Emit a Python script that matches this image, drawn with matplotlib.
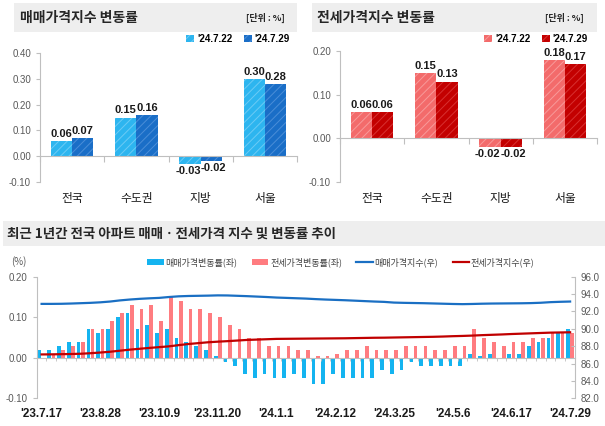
import matplotlib
matplotlib.use('Agg')
import matplotlib.pyplot as plt
import numpy as np
from matplotlib.patches import Rectangle

plt.rcParams['font.family'] = ['Noto Sans CJK KR', 'DejaVu Sans']
plt.rcParams['hatch.linewidth'] = 0.7
plt.rcParams['axes.unicode_minus'] = False

# ---------------- data ----------------
regions = ['전국', '수도권', '지방', '서울']
top_dates = ["'24.7.22", "'24.7.29"]
sale_0722 = [0.06, 0.15, -0.03, 0.30]
sale_0729 = [0.07, 0.16, -0.02, 0.28]
rent_0722 = [0.06, 0.15, -0.02, 0.18]
rent_0729 = [0.06, 0.13, -0.02, 0.17]

week_labels = ["'23.7.17", "'23.8.28", "'23.10.9", "'23.11.20", "'24.1.1",
               "'24.2.12", "'24.3.25", "'24.5.6", "'24.6.17", "'24.7.29"]

sale_rate = [0.02, 0.02, 0.03, 0.04, 0.04, 0.07, 0.06, 0.07, 0.10, 0.11,
             0.07, 0.08, 0.06, 0.07, 0.05, 0.04, 0.03, 0.02, 0.005,
             -0.01, -0.02, -0.04, -0.05, -0.04, -0.05, -0.05, -0.04, -0.05,
             -0.065, -0.065, -0.04, -0.05, -0.05, -0.05, -0.05, -0.03, -0.04,
             -0.03, -0.01, -0.02, -0.02, -0.02, -0.02, -0.02, 0.01, 0.005,
             0.01, -0.002, 0.01, 0.01, 0.03, 0.04, 0.05, 0.06, 0.07]
rent_rate = [-0.003, 0.01, 0.02, 0.03, 0.04, 0.07, 0.07, 0.09, 0.11, 0.13,
             0.12, 0.13, 0.09, 0.15, 0.14, 0.12, 0.12, 0.11, 0.10,
             0.08, 0.07, 0.05, 0.05, 0.03, 0.03, 0.03, 0.02, 0.02,
             0.004, 0.005, 0.01, 0.02, 0.02, 0.03, 0.02, 0.02, 0.02,
             0.03, 0.03, 0.03, 0.02, 0.02, 0.03, 0.03, 0.07, 0.05,
             0.04, 0.03, 0.04, 0.04, 0.05, 0.05, 0.06, 0.06, 0.06]
sale_index = [92.87, 92.87, 92.88, 92.91, 92.95, 92.99, 93.05, 93.14, 93.27, 93.37,
              93.45, 93.51, 93.56, 93.66, 93.74, 93.78, 93.80, 93.82, 93.85,
              93.84, 93.80, 93.76, 93.71, 93.66, 93.60, 93.56, 93.52, 93.48,
              93.42, 93.37, 93.33, 93.29, 93.24, 93.19, 93.14, 93.10, 93.02,
              92.99, 92.97, 92.95, 92.92, 92.89, 92.86, 92.84, 92.86, 92.89,
              92.91, 92.92, 92.93, 92.94, 92.96, 93.00, 93.07, 93.11, 93.14]
rent_index = [87.05, 87.06, 87.08, 87.10, 87.13, 87.19, 87.27, 87.36, 87.48, 87.60,
              87.70, 87.80, 87.89, 87.98, 88.12, 88.25, 88.35, 88.45, 88.52,
              88.58, 88.65, 88.72, 88.76, 88.80, 88.84, 88.85, 88.86, 88.87,
              88.88, 88.89, 88.90, 88.91, 88.93, 88.95, 88.97, 88.98, 89.00,
              89.02, 89.04, 89.06, 89.08, 89.11, 89.15, 89.18, 89.22, 89.27,
              89.31, 89.35, 89.40, 89.44, 89.48, 89.52, 89.56, 89.58, 89.60]

# ---------------- figure ----------------
W, H = 605, 426
fig = plt.figure(figsize=(W / 100, H / 100), dpi=100)
GRAY = '#BFBFBF'
TICKC = '#595959'
ARIAL = ['Liberation Sans', 'DejaVu Sans']


def axes_px(l, t, r, b):
    return fig.add_axes([l / W, 1 - b / H, (r - l) / W, (b - t) / H])


def band(l, t, r, b):
    fig.patches.append(Rectangle((l / W, 1 - b / H), (r - l) / W, (b - t) / H,
                                 transform=fig.transFigure, facecolor='#EEEEEE',
                                 edgecolor='none', zorder=0))


def ftext(px, py, s, **kw):
    fig.text(px / W, 1 - py / H, s, **kw)


# title bands
band(14, 3, 297, 32)
band(312, 3, 597, 32)
band(3, 221, 605, 246)
ftext(20, 18, '매매가격지수 변동률', fontsize=10, fontweight='bold', color='#262626', va='center')
ftext(285, 18, '[단위 : %]', fontsize=6.5, fontweight='bold', color='#262626', va='center', ha='right')
ftext(317, 18, '전세가격지수 변동률', fontsize=10, fontweight='bold', color='#262626', va='center')
ftext(584, 18, '[단위 : %]', fontsize=6.5, fontweight='bold', color='#262626', va='center', ha='right')
ftext(7, 234, '최근 1년간 전국 아파트 매매ㆍ전세가격 지수 및 변동률 추이', fontsize=9.7,
      fontweight='bold', color='#262626', va='center')


def top_chart(ax, v1, v2, c1, c2, h1, h2, ylim, yticks, pad, leg_x):
    x = np.arange(len(regions))
    w = 0.33
    b1 = ax.bar(x - w / 2, v1, w, color=c1, edgecolor=h1, hatch='////', linewidth=0, label=top_dates[0])
    b2 = ax.bar(x + w / 2, v2, w, color=c2, edgecolor=h2, hatch='////', linewidth=0, label=top_dates[1])
    for k, (bars, vals) in enumerate(((b1, v1), (b2, v2))):
        for rect, v in zip(bars, vals):
            if v >= 0:
                xa, ha, va, dy = rect.get_x() + rect.get_width() / 2, 'center', 'bottom', 1.5
            else:
                va, dy = 'top', -1.5
                if k == 0:
                    xa, ha = rect.get_x() + rect.get_width(), 'right'
                else:
                    xa, ha = rect.get_x(), 'left'
            ax.annotate(f'{v:.2f}', (xa, v), xytext=(0, dy), textcoords='offset points',
                        ha=ha, va=va, fontsize=8, fontweight='bold', family=ARIAL, color='#1a1a1a')
    ax.set_xlim(-0.5, len(regions) - 0.5)
    ax.set_ylim(*ylim)
    ax.set_yticks(yticks)
    ax.yaxis.set_major_formatter('{x:.2f}')
    for s in ('top', 'right'):
        ax.spines[s].set_visible(False)
    ax.spines['left'].set_color(GRAY)
    ax.spines['bottom'].set_color(GRAY)
    ax.spines['bottom'].set_position(('data', 0))
    ax.tick_params(axis='y', colors=GRAY, labelcolor=TICKC, labelsize=7, length=3, width=0.8)
    for lab in ax.get_yticklabels():
        lab.set_family(ARIAL)
    ax.set_xticks(x, regions)
    ax.set_xticks(np.arange(len(regions) + 1) - 0.5, minor=True)
    ax.tick_params(axis='x', which='major', length=0, pad=pad, labelsize=8.5, labelcolor='#1a1a1a')
    ax.tick_params(axis='x', which='minor', length=4, color=GRAY, width=0.8)
    fig.legend(handles=[b1, b2], loc='center right', bbox_to_anchor=(leg_x / W, 1 - 39 / H),
               ncol=2, frameon=False, handlelength=0.8, handleheight=0.8,
               handletextpad=0.3, columnspacing=1.2, borderaxespad=0, borderpad=0,
               prop={'family': ARIAL, 'weight': 'bold', 'size': 7})


ax1 = axes_px(40, 53.3, 297, 181.7)
top_chart(ax1, sale_0722, sale_0729, '#2DB5EF', '#1A6EC7', '#6CCBF5', '#4A8ED8',
          (-0.1, 0.4), [-0.1, 0.0, 0.1, 0.2, 0.3, 0.4], 26, 290)
ax2 = axes_px(340, 51, 597, 182)
top_chart(ax2, rent_0722, rent_0729, '#F36B6B', '#C30000', '#F89A9A', '#D83030',
          (-0.1, 0.2), [-0.1, 0.0, 0.1, 0.2], 39, 588)

# ---------------- bottom chart ----------------
axb = axes_px(36.7, 276.7, 575, 398.3)
xw = np.arange(len(sale_rate))
bs = axb.bar(xw - 0.215, sale_rate, 0.38, color='#14B4F0', linewidth=0, label='매매가격변동률(좌)')
br = axb.bar(xw + 0.215, rent_rate, 0.38, color='#FF7C80', linewidth=0, label='전세가격변동률(좌)')
axb.set_xlim(-0.5, len(sale_rate) - 0.5)
axb.set_ylim(-0.1, 0.2)
axb.set_yticks([-0.1, 0.0, 0.1, 0.2])
axb.yaxis.set_major_formatter('{x:.2f}')
for s in ('top', 'right'):
    axb.spines[s].set_visible(False)
axb.spines['left'].set_color(GRAY)
axb.spines['bottom'].set_color(GRAY)
axb.spines['bottom'].set_position(('data', 0))
axb.tick_params(axis='y', colors=GRAY, labelcolor=TICKC, labelsize=7, length=3, width=0.8)
for lab in axb.get_yticklabels():
    lab.set_family(ARIAL)
axb.set_xticks(xw[::6], week_labels)
axb.set_xticks(np.arange(len(sale_rate) + 1) - 0.5, minor=True)
axb.tick_params(axis='x', which='major', length=0, pad=36, labelsize=8.5, labelcolor='#1a1a1a')
axb.tick_params(axis='x', which='minor', length=2.5, color=GRAY, width=0.6)
for lab in axb.get_xticklabels():
    lab.set_fontweight('bold')
    lab.set_family(ARIAL)

axr = axb.twinx()
ls, = axr.plot(xw, sale_index, color='#1A6FC3', lw=1.6, label='매매가격지수(우)')
lr, = axr.plot(xw, rent_index, color='#C00000', lw=1.6, label='전세가격지수(우)')
axr.set_ylim(82, 96)
axr.set_yticks(np.arange(82, 97, 2))
axr.yaxis.set_major_formatter('{x:.1f}')
for s in ('top', 'left', 'bottom'):
    axr.spines[s].set_visible(False)
axr.spines['right'].set_color(GRAY)
axr.tick_params(axis='y', colors=GRAY, labelcolor=TICKC, labelsize=7, length=3, width=0.8,
                direction='in', pad=4)
for lab in axr.get_yticklabels():
    lab.set_family(ARIAL)

ftext(19, 262, '(%)', fontsize=7, color=TICKC, va='center', ha='center')
leg = fig.legend(handles=[bs, br, ls, lr], loc='center', bbox_to_anchor=(341 / W, 1 - 262 / H),
                 ncol=4, frameon=False, fontsize=6.5, handlelength=1.8, handleheight=0.6,
                 handletextpad=0.2, columnspacing=1.6, borderaxespad=0, borderpad=0)
for t in leg.get_texts():
    t.set_color('#404040')

fig.savefig('out.png', dpi=100)
